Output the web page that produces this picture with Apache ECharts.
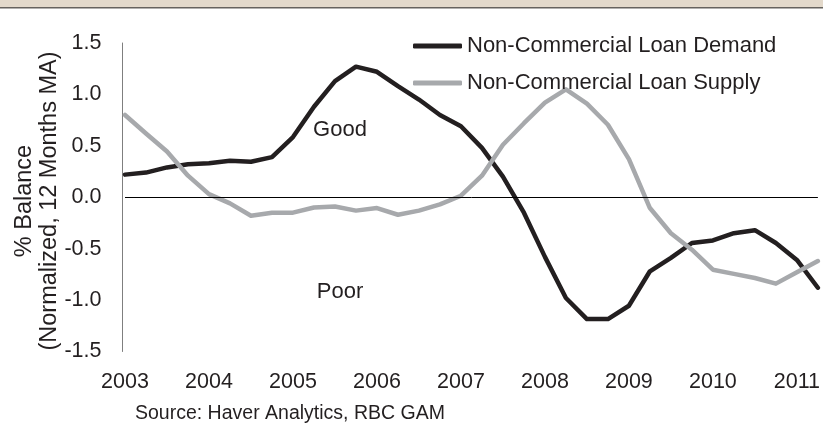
<!DOCTYPE html>
<html>
<head>
<meta charset="utf-8">
<script src="https://cdn.jsdelivr.net/npm/echarts@6/dist/echarts.min.js"></script>
<style>
  html, body { margin: 0; padding: 0; background: #ffffff; }
  #chart { width: 823px; height: 426px; }
</style>
</head>
<body>
<div id="chart"></div>
<script>
// Quarterly observations, 2003 Q1 .. 2011 Q2
const quarters = [
  '2003 Q1','2003 Q2','2003 Q3','2003 Q4',
  '2004 Q1','2004 Q2','2004 Q3','2004 Q4',
  '2005 Q1','2005 Q2','2005 Q3','2005 Q4',
  '2006 Q1','2006 Q2','2006 Q3','2006 Q4',
  '2007 Q1','2007 Q2','2007 Q3','2007 Q4',
  '2008 Q1','2008 Q2','2008 Q3','2008 Q4',
  '2009 Q1','2009 Q2','2009 Q3','2009 Q4',
  '2010 Q1','2010 Q2','2010 Q3','2010 Q4',
  '2011 Q1','2011 Q2'
];

// % balance, normalized, 12-month moving average
const loanDemand = [
  0.22, 0.24, 0.29, 0.32, 0.33, 0.355, 0.345, 0.39,
  0.585, 0.88, 1.13, 1.27, 1.22, 1.08, 0.95, 0.80,
  0.69, 0.48, 0.20, -0.15, -0.58, -0.98, -1.185, -1.185,
  -1.055, -0.72, -0.59, -0.445, -0.42, -0.35, -0.32, -0.445,
  -0.61, -0.88
];
const loanSupply = [
  0.80, 0.62, 0.445, 0.21, 0.03, -0.06, -0.18, -0.15,
  -0.15, -0.10, -0.09, -0.13, -0.105, -0.17, -0.13, -0.07,
  0.015, 0.21, 0.51, 0.72, 0.92, 1.05, 0.91, 0.705,
  0.37, -0.105, -0.35, -0.51, -0.705, -0.745, -0.785, -0.84,
  -0.73, -0.62
];

const yTicks = { min: -1.5, max: 1.5, step: 0.5 };
const seriesNames = ['Non-Commercial Loan Demand', 'Non-Commercial Loan Supply'];
const zoneLabels = ['Good', 'Poor'];
const axisTitle = '% Balance\n(Normalized, 12 Months MA)';
const sourceNote = 'Source: Haver Analytics, RBC GAM';

const FONT = '"Liberation Sans", Arial, Helvetica, sans-serif';
const INK = '#231f20';
const DARK = '#231f20';
const GREY = '#a7a9ac';

const chart = echarts.init(document.getElementById('chart'), null, { renderer: 'canvas' });

chart.setOption({
  animation: false,
  backgroundColor: '#ffffff',
  textStyle: { fontFamily: FONT, color: INK },
  grid: { left: 125, top: 43, width: 698.6, height: 308.5, containLabel: false },
  legend: {
    orient: 'vertical',
    left: 408,
    top: 30,
    itemWidth: 49,
    itemHeight: 5,
    itemGap: 15,
    icon: 'roundRect',
    data: seriesNames,
    textStyle: { fontFamily: FONT, fontSize: 22, color: INK, lineHeight: 22 }
  },
  xAxis: {
    type: 'category',
    data: quarters,
    boundaryGap: false,
    axisLine: { show: false, onZero: false },
    axisTick: { show: false },
    splitLine: { show: false },
    axisLabel: {
      interval: 3,
      margin: 20,
      fontFamily: FONT,
      fontSize: 21.5,
      color: INK,
      formatter: v => v.slice(0, 4)
    }
  },
  yAxis: {
    type: 'value',
    min: yTicks.min,
    max: yTicks.max,
    interval: yTicks.step,
    offset: 2.5,
    axisLine: { show: true, lineStyle: { color: '#7f7f7f', width: 1 } },
    axisTick: { show: false },
    splitLine: { show: false },
    axisLabel: {
      margin: 21,
      fontFamily: FONT,
      fontSize: 21.5,
      color: INK,
      formatter: v => v.toFixed(1)
    }
  },
  series: [
    {
      name: seriesNames[0],
      type: 'line',
      data: loanDemand,
      symbol: 'none',
      smooth: false,
      clip: true,
      itemStyle: { color: DARK },
      lineStyle: { color: DARK, width: 4.5, cap: 'round', join: 'round' },
      markLine: {
        silent: true,
        symbol: ['none', 'none'],
        label: { show: false },
        lineStyle: { color: '#000000', width: 1, type: 'solid' },
        data: [{ yAxis: 0 }]
      }
    },
    {
      name: seriesNames[1],
      type: 'line',
      data: loanSupply,
      symbol: 'none',
      smooth: false,
      clip: true,
      itemStyle: { color: GREY },
      lineStyle: { color: GREY, width: 4.5, cap: 'round', join: 'round' }
    }
  ],
  graphic: [
    // header band
    { type: 'rect', left: 0, top: 0, shape: { width: 823, height: 7 }, style: { fill: '#e3d9cb' }, silent: true },
    { type: 'rect', left: 0, top: 7, shape: { width: 823, height: 1.5 }, style: { fill: '#66625e' }, silent: true },
    // axis title
    {
      type: 'text',
      x: 37.5, y: 201,
      rotation: Math.PI / 2,
      style: {
        text: axisTitle,
        fontFamily: FONT, fontSize: 23.5, lineHeight: 25,
        fill: INK, align: 'center', verticalAlign: 'middle'
      },
      silent: true
    },
    // zone labels
    {
      type: 'text', x: 340, y: 129.5,
      style: { text: zoneLabels[0], fontFamily: FONT, fontSize: 22, fill: INK, align: 'center', verticalAlign: 'middle' },
      silent: true
    },
    {
      type: 'text', x: 340, y: 292,
      style: { text: zoneLabels[1], fontFamily: FONT, fontSize: 22, fill: INK, align: 'center', verticalAlign: 'middle' },
      silent: true
    },
    // source note
    {
      type: 'text', x: 135, y: 414,
      style: { text: sourceNote, fontFamily: FONT, fontSize: 19.5, fill: INK, align: 'left', verticalAlign: 'middle' },
      silent: true
    }
  ]
});
</script>
</body>
</html>
